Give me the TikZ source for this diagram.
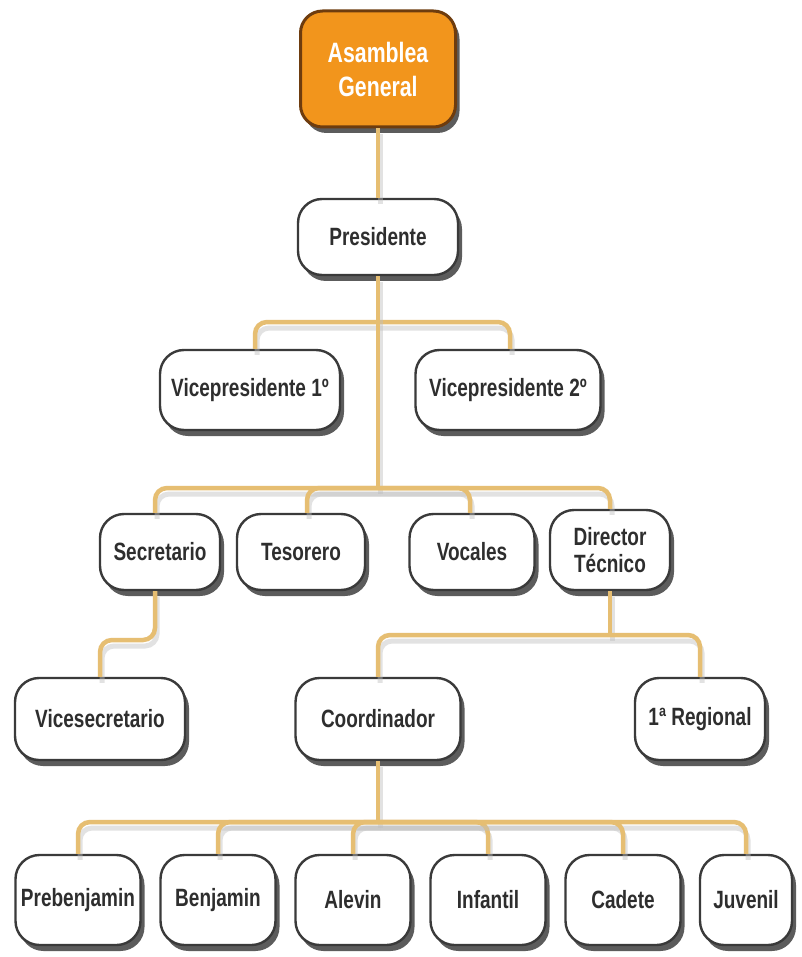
\documentclass[tikz,border=0pt]{standalone}
\usepackage{fontspec}
\setmainfont[FakeStretch=0.76]{Liberation Sans}
\usetikzlibrary{shadows}
\definecolor{linktan}{HTML}{E6BE72}
\definecolor{boxedge}{HTML}{3A3A3A}
\definecolor{boxtext}{HTML}{2E2E2E}
\definecolor{orgfill}{HTML}{F2951C}
\definecolor{orgedge}{HTML}{6E3C0E}
\tikzset{
  unit/.style={draw=boxedge, line width=2.4pt, fill=white, rounded corners=24pt,
    font=\fontsize{25}{27}\selectfont\bfseries, text=boxtext, align=center,
    inner sep=2pt,
    drop shadow={shadow xshift=4pt, shadow yshift=-6pt, fill=black!75, opacity=.85}},
  topunit/.style={unit, fill=orgfill, draw=orgedge, line width=3pt, text=white,
    rounded corners=22pt, font=\fontsize{28}{34}\selectfont\bfseries},
  conn/.style={draw=linktan, line width=4.5pt, rounded corners=12pt,
    preaction={draw=black!25, opacity=.45, line width=5pt,
      transform canvas={shift={(2pt,-6pt)}}}},
}
\begin{document}
\begin{tikzpicture}[x=1pt, y=-1pt]
\useasboundingbox[fill=white] (0,0) rectangle (801,957);

% governing bodies
\node[topunit, minimum width=155, minimum height=116] (ag) at (378,69) {Asamblea\\General};
\node[unit, minimum width=160, minimum height=76] (pres) at (378,237) {Presidente};
\node[unit, minimum width=180, minimum height=80] (v1) at (250,390) {Vicepresidente 1º};
\node[unit, minimum width=185, minimum height=80] (v2) at (508,390) {Vicepresidente 2º};

% board members
\node[unit, minimum width=120, minimum height=76] (sec) at (160,552) {Secretario};
\node[unit, minimum width=128, minimum height=76] (tes) at (301,552) {Tesorero};
\node[unit, minimum width=125, minimum height=76] (voc) at (472,552) {Vocales};
\node[unit, minimum width=120, minimum height=80] (dir) at (610,550) {Director\\Técnico};

% second level
\node[unit, minimum width=170, minimum height=82] (vsec) at (100,719) {Vicesecretario};
\node[unit, minimum width=165, minimum height=82] (coord) at (378,719) {Coordinador};
\node[unit, minimum width=130, minimum height=82] (reg) at (700,719) {1ª Regional};

% teams
\node[unit, minimum width=125, minimum height=90] (preb) at (78,900) {Prebenjamin};
\node[unit, minimum width=115, minimum height=90] (benj) at (218,900) {Benjamin};
\node[unit, minimum width=115, minimum height=90] (alev) at (353,900) {Alevin};
\node[unit, minimum width=115, minimum height=90] (inf) at (488,900) {Infantil};
\node[unit, minimum width=115, minimum height=90] (cad) at (623,900) {Cadete};
\node[unit, minimum width=92, minimum height=90] (juv) at (746,900) {Juvenil};

% junction points of the buses
\coordinate (busA) at (378,322);
\coordinate (busB) at (378,488);
\coordinate (busC) at (610,635);
\coordinate (busD) at (378,822);
\coordinate (bendS) at (155,640);

% connectors
\draw[conn] (ag.south) -- (pres.north);
\draw[conn] (v1.north -| 255,0) |- (busA) -| (v2.north -| 510,0);
\draw[conn] (pres.south) -- (busB);
\draw[conn] (sec.north -| 155,0) |- (busB) -| (dir.north);
\draw[conn] (tes.north -| 307,0) |- (busB);
\draw[conn] (voc.north -| 470,0) |- (busB);
\draw[conn] (sec.south -| 155,0) -- (bendS) -| (vsec.north);
\draw[conn] (dir.south) -- (busC);
\draw[conn] (coord.north) |- (busC) -| (reg.north);
\draw[conn] (coord.south) -- (busD);
\draw[conn] (preb.north) |- (busD) -| (juv.north);
\draw[conn] (benj.north) |- (busD);
\draw[conn] (alev.north) |- (busD);
\draw[conn] (inf.north) |- (busD);
\draw[conn] (cad.north) |- (busD);
\end{tikzpicture}
\end{document}
